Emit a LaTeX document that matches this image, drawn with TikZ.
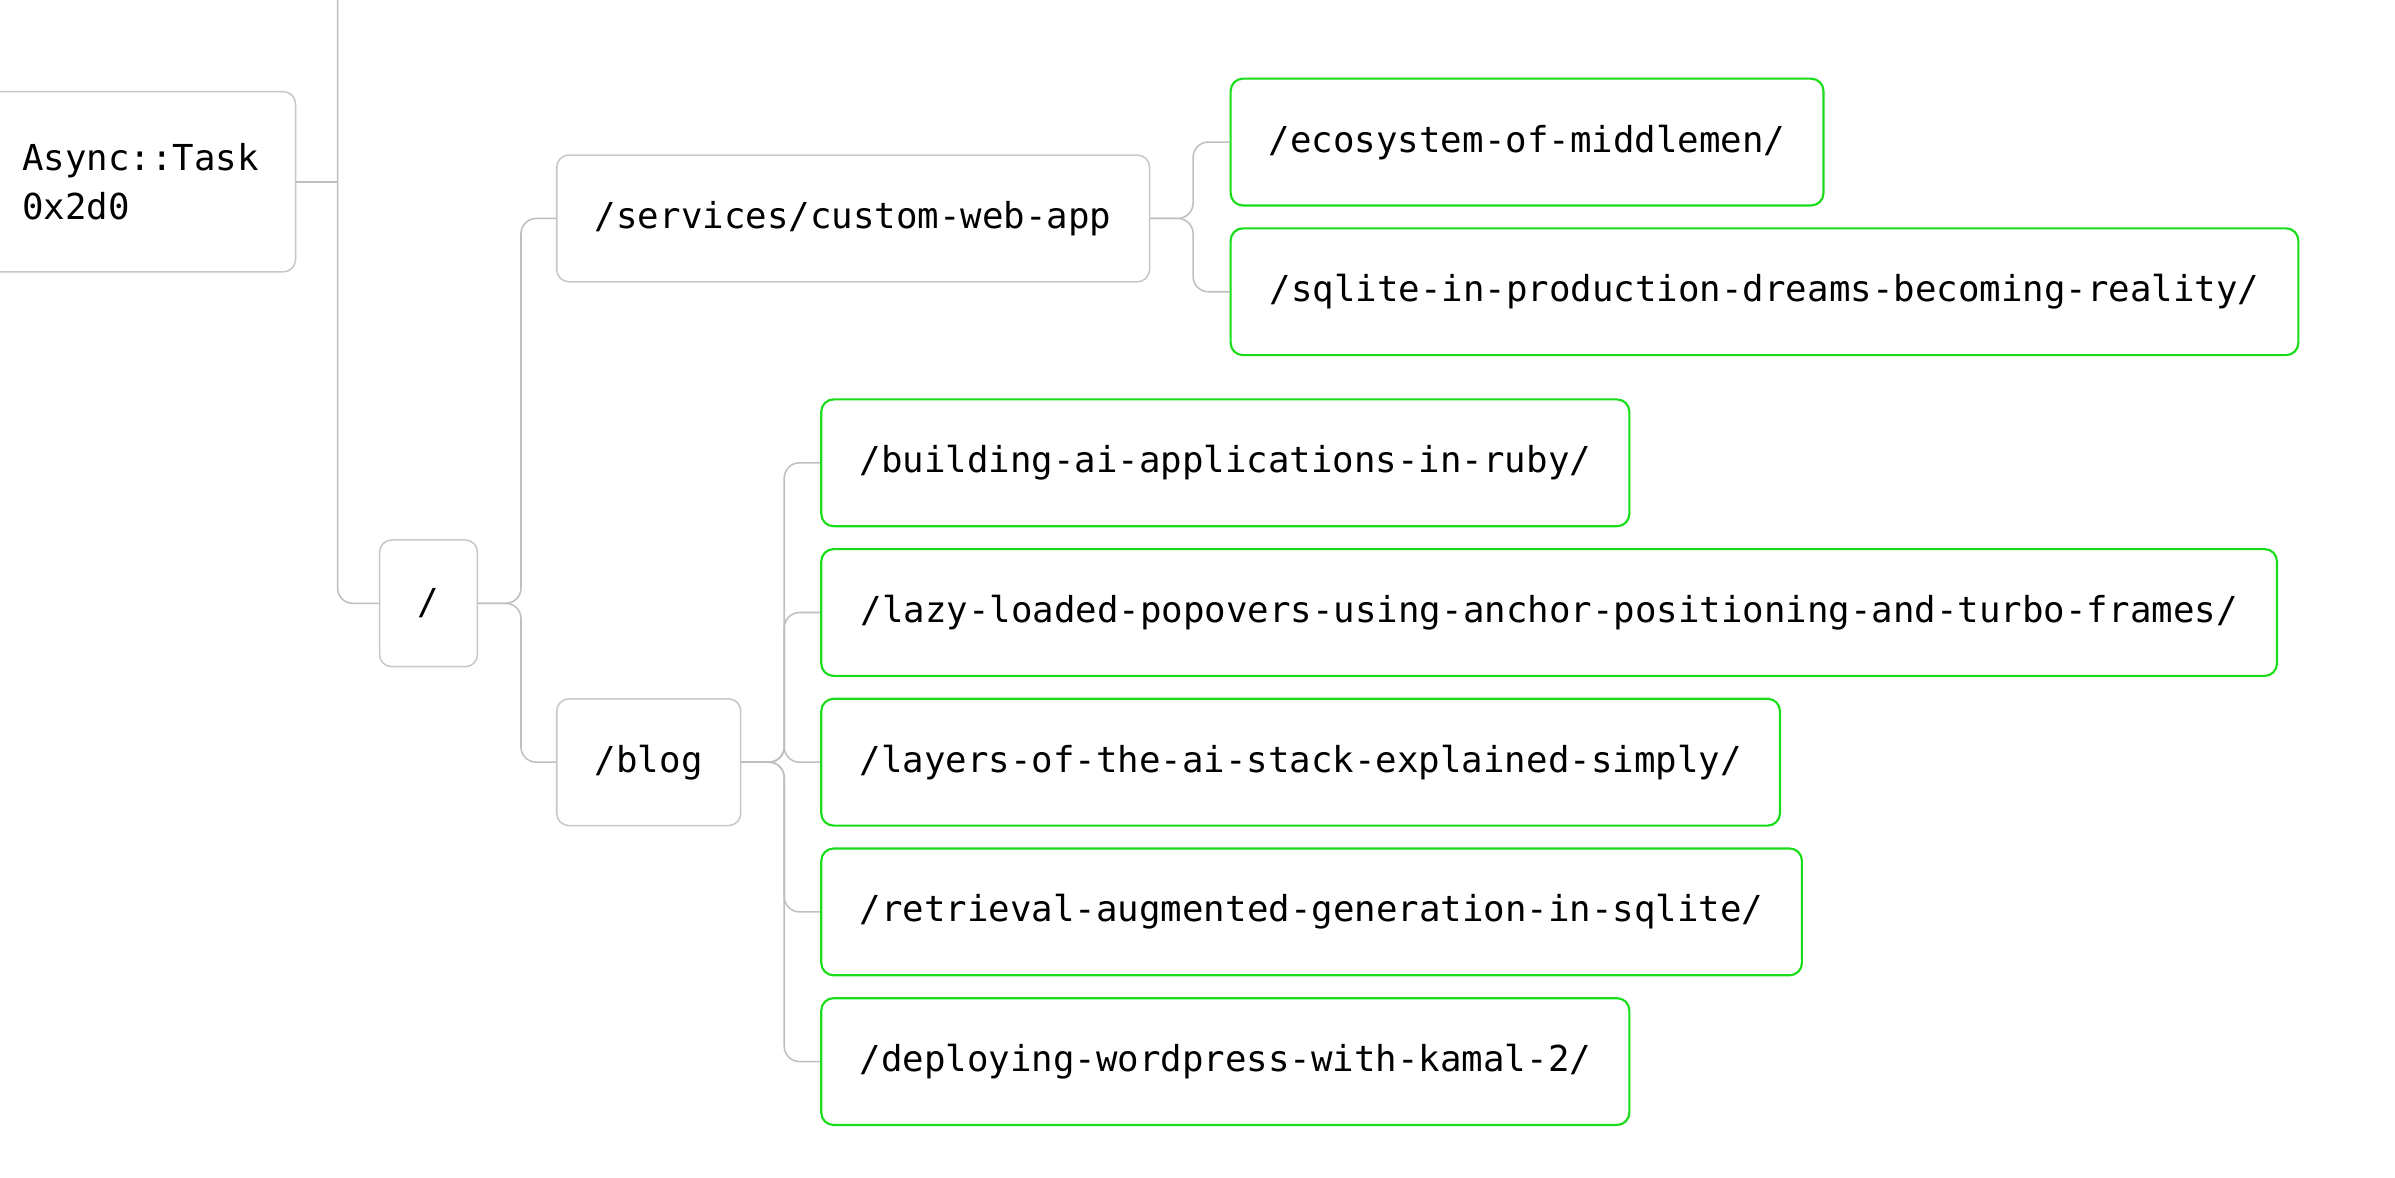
\documentclass[tikz,border=0pt]{standalone}
\usepackage{fontspec}
\setmainfont{DejaVu Sans Mono}
\begin{document}
\begin{tikzpicture}[x=0.5pt, y=-0.5pt,
  every node/.style={draw=black!22, line width=0.5pt, rounded corners=4pt,
    minimum height=41.5pt, inner xsep=12.5pt, font=\fontsize{11.7}{16}\selectfont, anchor=west},
  leaf/.style={draw=green!85!black!90, line width=0.7pt},
  wire/.style={draw=black!25, line width=0.5pt, rounded corners=5pt}]
  \useasboundingbox (0,0) rectangle (1568,771);
  \coordinate (top) at (221,0);
  \node[minimum height=59pt, inner xsep=12pt, text width=77.5pt, align=left] (task) at (-10,119) {Async::Task\\0x2d0};
  \node (root) at (248,395) {/};
  \node[minimum width=193.5pt] (svc) at (364,143) {/services/custom-web-app};
  \node[minimum width=59.5pt] (blog) at (364,499) {/blog};
  \node[leaf, minimum width=193.5pt] (eco) at (805,93) {/ecosystem-of-middlemen/};
  \node[leaf, minimum width=349.5pt] (sql) at (805,191) {/sqlite-in-production-dreams-becoming-reality/};
  \node[leaf, minimum width=264.5pt] (ruby) at (537,303) {/building-ai-applications-in-ruby/};
  \node[leaf, minimum width=476.5pt] (lazy) at (537,401) {/lazy-loaded-popovers-using-anchor-positioning-and-turbo-frames/};
  \node[leaf, minimum width=313.5pt] (stack) at (537,499) {/layers-of-the-ai-stack-explained-simply/};
  \node[leaf, minimum width=321pt] (rag) at (537,597) {/retrieval-augmented-generation-in-sqlite/};
  \node[leaf, minimum width=264.5pt] (wp) at (537,695) {/deploying-wordpress-with-kamal-2/};
  \draw[wire] (top) |- (root.west);
  \draw[wire] (task.east) -- (task.east -| top);
  \foreach \c in {svc, blog}
    \draw[wire] (root.east) -- ++(14pt,0) |- (\c.west);
  \foreach \c in {eco, sql}
    \draw[wire] (svc.east) -- ++(14pt,0) |- (\c.west);
  \foreach \c in {ruby, lazy, stack, rag, wp}
    \draw[wire] (blog.east) -- ++(14pt,0) |- (\c.west);
\end{tikzpicture}
\end{document}
